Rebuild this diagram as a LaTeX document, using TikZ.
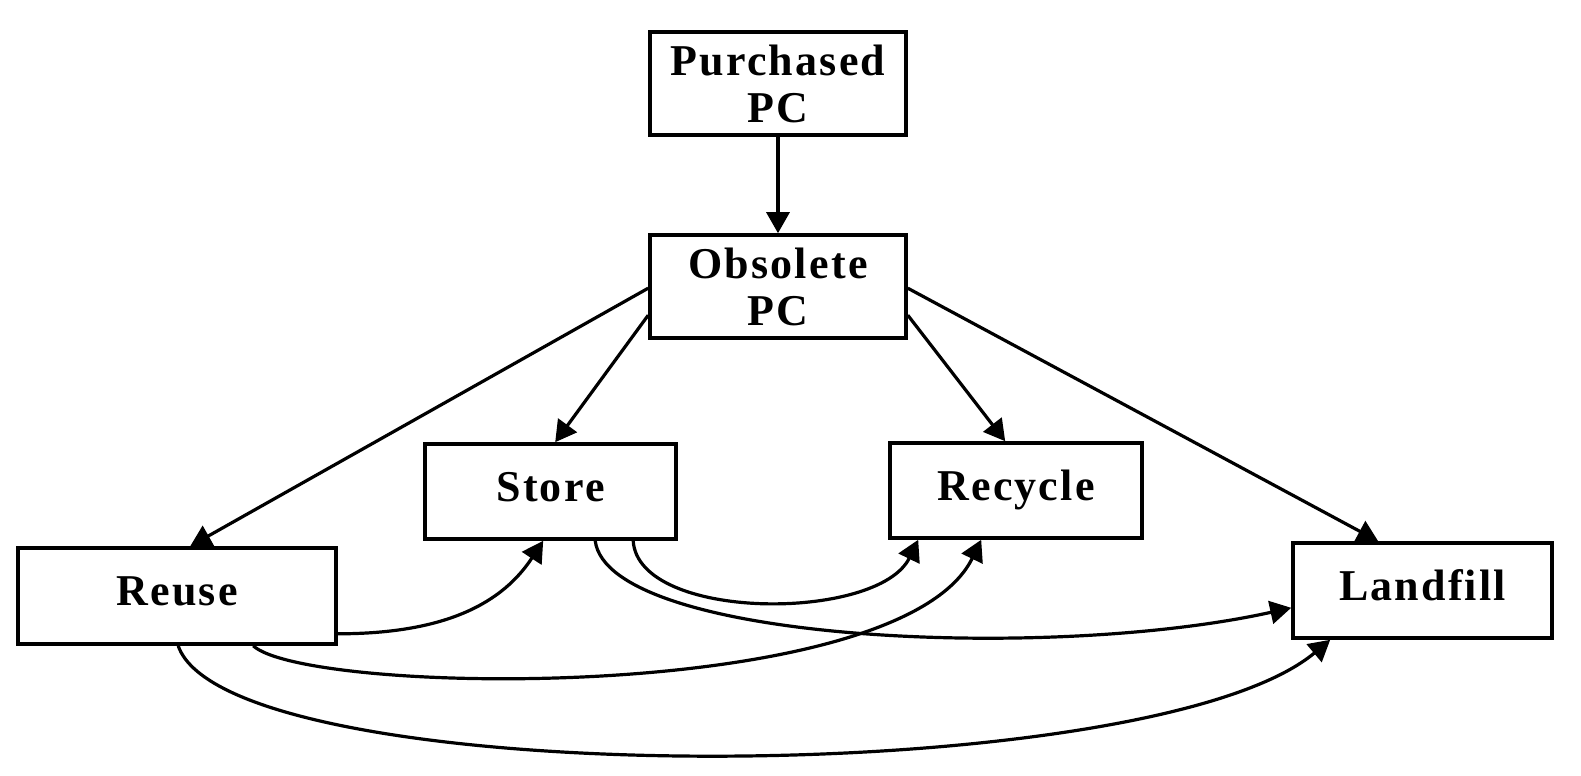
\documentclass[tikz,border=0pt]{standalone}
\usepackage{fontspec}
\setmainfont{Liberation Serif}[LetterSpace=5]
\usetikzlibrary{arrows.meta,calc}
\begin{document}
\begin{tikzpicture}[x=0.5pt,y=0.5pt,
  box/.style={draw, line width=1.8pt, rectangle, inner sep=0pt,
    font=\bfseries\fontsize{22}{23.5}\selectfont},
  two/.style={align=center},
  one/.style={text height=15.4pt, text depth=5.5pt},
  link/.style={line width=1.6pt, -{Triangle[length=10.5pt,width=11.5pt]}}]
\useasboundingbox (0,0) rectangle (1581,-776);
\node[box, two, minimum width=128pt, minimum height=51.5pt] (pur) at (778,-83.5) {Purchased\\PC};
\node[box, two, minimum width=128pt, minimum height=51.5pt] (obs) at (778,-286.5) {Obsolete\\PC};
\node[box, one, minimum width=125.5pt, minimum height=47.5pt] (sto) at (550.5,-491.5) {Store};
\node[box, one, minimum width=126pt, minimum height=47.5pt] (rec) at (1016,-490.5) {Recycle};
\node[box, one, minimum width=159pt, minimum height=48pt] (reu) at (177,-596) {Reuse};
\node[box, one, minimum width=129.5pt, minimum height=47.5pt] (lan) at (1422.5,-590.5) {Landfill};

\draw[link] (pur) -- (obs);
\draw[link] ($(obs.north west)+(0,-55)$) -- ($(reu.north west)+(174,0)$);
\draw[link] ($(obs.north west)+(0,-82)$) -- ($(sto.north west)+(132,0)$);
\draw[link] ($(obs.north east)+(0,-82)$) -- ($(rec.north west)+(117,0)$);
\draw[link] ($(obs.north east)+(0,-55)$) -- ($(lan.north west)+(87,0)$);

\draw[link] ($(reu.south east)+(0,12)$) .. controls +(110,0) and +(-40,-61) .. ($(sto.south west)+(120,0)$);
\draw[link] ($(reu.south west)+(237,0)$) .. controls +(55,-50) and +(-80,-165) .. ($(rec.south west)+(93,0)$);
\draw[link] ($(reu.south west)+(162,0)$) .. controls +(50,-146) and +(-182,-152) .. ($(lan.south west)+(39,0)$);
\draw[link] ($(sto.south west)+(210,0)$) .. controls +(5,-81) and +(-40,-82) .. ($(rec.south west)+(30,0)$);
\draw[link] ($(sto.south west)+(172,0)$) .. controls +(13,-101) and +(-243,-54) .. ($(lan.south west)+(0,32)$);
\end{tikzpicture}
\end{document}
